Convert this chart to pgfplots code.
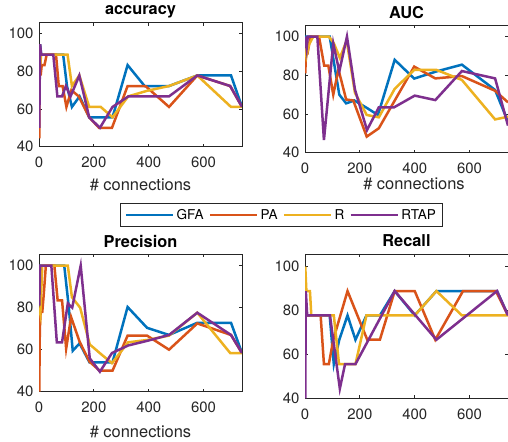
\documentclass[border=0pt]{standalone}
\usepackage{pgfplots}
\pgfplotsset{compat=1.18}
\usepackage{fontspec}
\setmainfont{TeX Gyre Heros}
\definecolor{cgfa}{rgb}{0,0.447,0.741}
\definecolor{cpa}{rgb}{0.85,0.325,0.098}
\definecolor{cr}{rgb}{0.929,0.694,0.125}
\definecolor{crtap}{rgb}{0.494,0.184,0.556}
\definecolor{axgray}{rgb}{0.15,0.15,0.15}
\pgfplotsset{
 mat/.style={
  scale only axis, width=203bp, xmin=0, xmax=740, ymin=40,
  xtick={0,200,400,600}, ytick={40,60,80,100},
  tick align=inside, major tick length=3bp,
  axis line style={axgray, line width=0.8bp},
  every tick/.style={axgray, line width=0.8bp},
  tick label style={font=\fontsize{15}{15}\selectfont, text=axgray},
  /pgf/number format/assume math mode=true,
  xticklabel style={yshift=-7bp},
  yticklabel style={xshift=-2bp},
  title style={font=\bfseries\fontsize{16.4}{18}\selectfont, anchor=base, at={(axis description cs:0.5,1)}},
  label style={font=\fontsize{16.5}{18}\selectfont, text=axgray},
  no markers,
  every axis plot/.append style={line width=2.5bp},
  anchor=south west,
 },
}
\begin{document}
\begin{tikzpicture}
\useasboundingbox (0,0) rectangle (508bp,442bp);
% accuracy
\begin{axis}[mat, at={(39bp,295.3bp)}, height=124bp, ymax=105.8,
  title={accuracy}, title style={yshift=2.2bp},
  xlabel={\# connections}, xlabel style={at={(axis description cs:0.5,0)}, anchor=base, yshift=-44.2bp},
  legend columns=4,
  legend style={at={(axis description cs:1.1946,-0.5508)}, anchor=center, draw=axgray, line width=0.8bp,
    font=\fontsize{13.6}{15}\selectfont, inner xsep=4.5bp, inner ysep=4bp,
    nodes={inner xsep=2.5bp, inner ysep=2bp},
    /tikz/every even column/.append style={column sep=2.5bp}},
  legend image code/.code={\draw[#1, line width=2.5bp] (0bp,0bp) -- (47bp,0bp);},
]
\addplot[cgfa] coordinates {(1,88.9)(4,94.4)(8,88.9)(15,88.9)(40,88.9)(55,88.9)(70,88.9)(88,88.9)(102,72.2)(120,61.1)(148,66.7)(183,55.6)(225,55.6)(268,55.6)(323,83.3)(385,72.2)(474,72.2)(577,77.8)(700,77.8)(740,61.1)};
\addplot[cpa] coordinates {(1,44.4)(3,94.4)(6,77.8)(10,83.3)(20,83.3)(28,88.9)(62,88.9)(72,72.2)(86,72.2)(100,61.1)(118,70)(145,66.7)(183,55.6)(219,50)(266,50)(323,72.2)(388,72.2)(474,61.1)(577,77.8)(697,72.2)(740,61.1)};
\addplot[cr] coordinates {(1,94.4)(4,83.3)(8,88.9)(104,88.9)(120,72.2)(147,77.8)(183,61.1)(225,61.1)(268,55.6)(325,66.7)(395,69.7)(474,72.2)(577,77.8)(700,61.1)(740,61.1)};
\addplot[crtap] coordinates {(1,50)(4,94.4)(8,88.9)(52,88.9)(67,66.7)(84,66.7)(98,72.2)(115,66.7)(147,77.8)(183,55.6)(222,50)(268,61.1)(326,66.7)(474,66.7)(577,77.8)(697,72.2)(740,61.1)};
\legend{GFA,PA,R,RTAP}
\end{axis}
% AUC
\begin{axis}[mat, at={(305bp,289.3bp)}, height=127.7bp, ymax=106,
  title={AUC}, title style={yshift=0.8bp},
  xlabel={\# connections}, xlabel style={at={(axis description cs:0.537,0)}, anchor=base, yshift=-37bp},
]
\addplot[cgfa] coordinates {(1,95)(4,100)(90,100)(125,70)(150,65.5)(180,67)(227,63)(266,59.5)(327,88)(398,78.3)(479,82)(572,85.5)(693,72.4)(740,56)};
\addplot[cpa] coordinates {(1,81)(4,93)(10,92)(20,100)(51,100)(70,85)(85,85)(103,70)(122,83)(150,67.5)(176,67)(225,48.3)(269,52.6)(398,84.5)(475,78.4)(572,79.6)(693,72)(740,66)};
\addplot[cr] coordinates {(1,94)(5,90)(15,96)(30,100)(87,100)(105,96.6)(127,89)(152,98)(182,71)(225,59.5)(269,58.3)(327,73)(398,82.8)(479,82.8)(572,77.6)(693,57.2)(740,58.6)};
\addplot[crtap] coordinates {(1,100)(6,94)(10,100)(45,100)(69,46.5)(103,96.5)(125,82)(153,100)(182,72.7)(226,51.7)(269,63.4)(324,63.4)(400,69.5)(475,67.2)(572,82.2)(693,78.4)(740,54)};
\end{axis}
% Precision
\begin{axis}[mat, at={(39bp,50.3bp)}, height=137.4bp, ymax=105.4,
  title={Precision}, title style={yshift=0.8bp},
  xlabel={\# connections}, xlabel style={at={(axis description cs:0.5,0)}, anchor=base, yshift=-45.9bp},
]
\addplot[cgfa] coordinates {(1,100)(92,100)(108,81)(123,59.5)(148,63)(184,54)(225,54)(268,54)(323,80.3)(394,70.4)(474,67)(577,72.8)(700,72.8)(740,58.4)};
\addplot[cpa] coordinates {(1,40)(3,70)(6,78)(12,78)(18,87.5)(25,100)(56,100)(68,83.5)(84,83.5)(99,60.5)(117,75.5)(148,63.8)(184,54.3)(221,50)(268,50)(323,66.7)(394,66.7)(474,60)(577,72.5)(700,67)(740,58.4)};
\addplot[cr] coordinates {(1,80)(5,77)(12,100)(105,100)(120,85)(150,80)(185,62.5)(225,58)(266,53.6)(325,63.5)(394,64.6)(474,66.7)(577,77.6)(697,58.4)(740,58.4)};
\addplot[crtap] coordinates {(1,81)(4,100)(45,100)(65,63.5)(84,63.5)(105,82)(121,80)(152,100)(185,55.9)(222,49.5)(266,58.4)(325,62)(394,64.2)(474,67)(577,77.6)(700,67)(740,58.4)};
\end{axis}
% Recall
\begin{axis}[mat, at={(305bp,43.7bp)}, height=144.3bp, ymax=105.8,
  title={Recall}, title style={yshift=1.3bp},
]
\addplot[cgfa] coordinates {(1,77.8)(90,77.8)(105,55.6)(125,66.7)(155,77.8)(184,66.7)(224,77.8)(273,77.8)(327,88.9)(400,77.8)(479,88.9)(700,88.9)(740,77.8)};
\addplot[cpa] coordinates {(1,77.8)(57,77.8)(69,55.6)(87,55.6)(103,66.7)(155,88.9)(227,66.7)(273,66.7)(327,88.9)(400,88.9)(475,66.7)(576,88.9)(696,88.9)(740,77.8)};
\addplot[cr] coordinates {(1,100)(5,88.9)(18,88.9)(23,77.8)(105,77.8)(124,55.6)(184,55.6)(224,77.8)(400,77.8)(479,88.9)(572,77.8)(740,77.8)};
\addplot[crtap] coordinates {(1,40)(3,88.9)(8,77.8)(91,77.8)(127,44.4)(146,55.6)(184,55.6)(327,88.9)(479,66.7)(700,88.9)(740,77.8)};
\end{axis}
\end{tikzpicture}
\end{document}
